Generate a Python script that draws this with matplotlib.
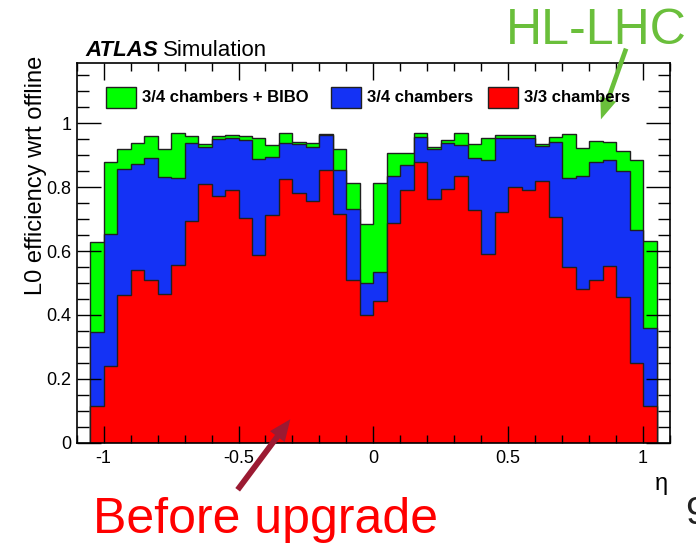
import matplotlib
matplotlib.use("Agg")
import matplotlib.pyplot as plt
import numpy as np
from matplotlib.patches import Rectangle, FancyArrowPatch
from matplotlib.ticker import MultipleLocator, FormatStrFormatter

plt.rcParams['font.family'] = ['Liberation Sans', 'DejaVu Sans']
plt.rcParams['axes.unicode_minus'] = False

# eta bins (-1.05 .. 1.05, width 0.05)
eta_edges = np.linspace(-1.05, 1.05, 43)

# L0 efficiency per eta bin
eff_bibo = [0.63, 0.88, 0.92, 0.94, 0.96, 0.92, 0.97, 0.96, 0.935, 0.96,
            0.964, 0.961, 0.955, 0.932, 0.971, 0.943, 0.9375, 0.968, 0.921, 0.8125,
            0.684, 0.8125, 0.906, 0.908, 0.969, 0.925, 0.947, 0.971, 0.935, 0.955,
            0.964, 0.964, 0.9625, 0.936, 0.958, 0.966, 0.924, 0.946, 0.943, 0.9125,
            0.885, 0.633]
eff_34 = [0.346, 0.654, 0.856, 0.873, 0.892, 0.833, 0.83, 0.9375, 0.927, 0.95,
          0.953, 0.948, 0.8875, 0.894, 0.9375, 0.935, 0.927, 0.9625, 0.853, 0.731,
          0.501, 0.535, 0.836, 0.869, 0.958, 0.92, 0.9375, 0.933, 0.891, 0.885,
          0.953, 0.955, 0.953, 0.929, 0.942, 0.829, 0.836, 0.879, 0.885, 0.852,
          0.665, 0.359]
eff_33 = [0.115, 0.24, 0.461, 0.542, 0.509, 0.466, 0.555, 0.694, 0.809, 0.773,
          0.792, 0.703, 0.589, 0.7125, 0.827, 0.783, 0.757, 0.854, 0.716, 0.511,
          0.399, 0.443, 0.6875, 0.79, 0.878, 0.7625, 0.794, 0.835, 0.729, 0.592,
          0.721, 0.802, 0.79, 0.821, 0.708, 0.549, 0.481, 0.51, 0.552, 0.456,
          0.25, 0.115]

labels = ["3/4 chambers + BIBO", "3/4 chambers", "3/3 chambers"]
colors = ["#00ff00", "#1432f5", "#ff0000"]

W, H = 696, 548


def px(x, y):
    # pixel position (from top-left) -> figure fraction
    return x / W, 1 - y / H


fig = plt.figure(figsize=(6.96, 5.48), dpi=100)
ax = fig.add_axes([76.7 / W, 1 - 442.7 / H, (670 - 76.7) / W, (442.7 - 63.3) / H])

for vals, c in zip([eff_bibo, eff_34, eff_33], colors):
    ax.stairs(vals, eta_edges, fill=True, facecolor=c, edgecolor="#202020", linewidth=1.0)

ax.set_xlim(-1.1, 1.1)
ax.set_ylim(0, 1.188)
ax.xaxis.set_major_locator(MultipleLocator(0.5))
ax.xaxis.set_minor_locator(MultipleLocator(0.1))
ax.yaxis.set_major_locator(MultipleLocator(0.2))
ax.yaxis.set_minor_locator(MultipleLocator(0.05))
ax.xaxis.set_major_formatter(FormatStrFormatter("%g"))
ax.yaxis.set_major_formatter(FormatStrFormatter("%g"))
ax.tick_params(which="both", direction="in", top=True, right=True, labelsize=13)
ax.tick_params(axis="x", which="major", length=12, width=1, pad=5)
ax.tick_params(axis="x", which="minor", length=6, width=1)
ax.tick_params(axis="y", which="major", length=17, width=1, pad=4)
ax.tick_params(axis="y", which="minor", length=8.5, width=1)
for s in ax.spines.values():
    s.set_linewidth(1.2)

# y label (ROOT style, pushed to the top)
fig.text(*px(36, 175), "L0 efficiency wrt offline", rotation=90,
         ha="center", va="center", fontsize=17)
fig.text(*px(668, 484), "η", ha="right", va="center", fontsize=17)

# ATLAS label
fig.text(*px(85, 51), "ATLAS", fontsize=16, fontweight="bold", fontstyle="italic",
         ha="left", va="center")
fig.text(*px(163, 51), "Simulation", fontsize=16, ha="left", va="center")

# legend
box_x = [105.7, 331, 488]
for bx, lab, c in zip(box_x, labels, colors):
    x0, y0 = px(bx, 108.3)
    fig.add_artist(Rectangle((x0, y0), 30 / W, 21 / H, transform=fig.transFigure,
                             facecolor=c, edgecolor="#202020", linewidth=1.0))
    fig.text(*px(bx + 36, 98), lab, fontsize=12, fontweight="bold",
             ha="left", va="center")

# slide annotations
fig.text(*px(506, 31), "HL-LHC", fontsize=36, color="#6abf3b", ha="left", va="center")
fig.add_artist(FancyArrowPatch(px(627, 46), px(600, 122), transform=fig.transFigure,
                               arrowstyle="simple,tail_width=0.28,head_width=1.0,head_length=1.3",
                               mutation_scale=12, color="#6abf3b", linewidth=0))
fig.text(*px(93, 520), "Before upgrade", fontsize=36, color="#ff0000",
         ha="left", va="center")
fig.add_artist(FancyArrowPatch(px(236, 492), px(292, 417), transform=fig.transFigure,
                               arrowstyle="simple,tail_width=0.35,head_width=1.1,head_length=1.3",
                               mutation_scale=12, color="#9b1a32", linewidth=0))
fig.text(*px(685, 514), "9", fontsize=28, color="#222222", ha="left", va="center")

plt.savefig("out.png", dpi=100)
